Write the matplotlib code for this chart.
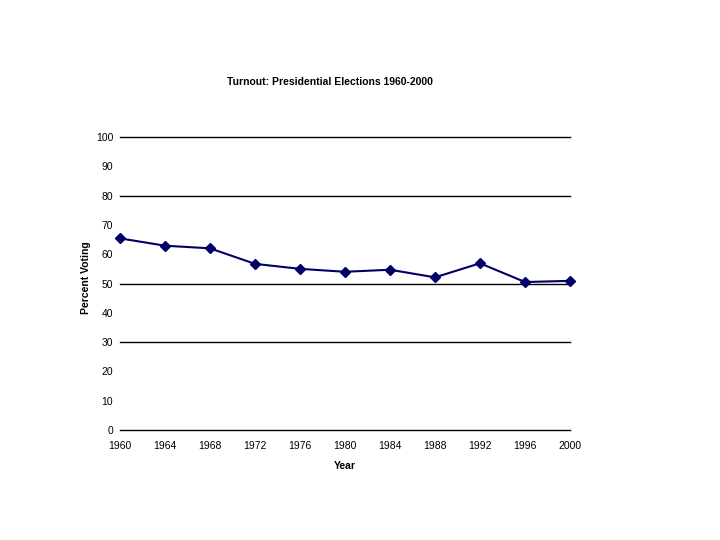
import matplotlib
matplotlib.use("Agg")
import matplotlib.pyplot as plt

years = [1960, 1964, 1968, 1972, 1976, 1980, 1984, 1988, 1992, 1996, 2000]
turnout = [65.4, 62.9, 62.0, 56.7, 55.0, 54.0, 54.7, 52.1, 56.9, 50.5, 50.9]
yticks = [0, 10, 20, 30, 40, 50, 60, 70, 80, 90, 100]
gridlines = [0, 30, 50, 80, 100]

plt.rcParams['font.family'] = ['Liberation Sans', 'DejaVu Sans']

fig = plt.figure(figsize=(7.2, 5.4), dpi=100)
ax = fig.add_axes([0.1667, 0.2037, 0.625, 0.5426])

for g in gridlines:
    ax.axhline(g, color='black', linewidth=1, zorder=1, clip_on=False)

ax.plot(years, turnout, color='#000066', linewidth=1.5, marker='D',
        markersize=5.5, markerfacecolor='#000066', markeredgecolor='#000066',
        zorder=3, clip_on=False)

ax.set_xlim(1960, 2000)
ax.set_ylim(0, 100)
ax.set_xticks(years)
ax.set_yticks(yticks)
ax.tick_params(axis='both', length=0, labelsize=7.5)
ax.tick_params(axis='y', pad=5)
ax.tick_params(axis='x', pad=8)
for s in ax.spines.values():
    s.set_visible(False)

ax.set_xlabel("Year", fontsize=7.5, fontweight='bold', labelpad=7)
ax.set_ylabel("Percent Voting", fontsize=7.5, fontweight='bold', labelpad=8)
ax.yaxis.set_label_coords(-0.065, 0.52)
fig.text(0.458, 0.848, "Turnout: Presidential Elections 1960-2000",
         fontsize=7.5, fontweight='bold', ha='center', va='center')

fig.savefig("out.png", dpi=100)
